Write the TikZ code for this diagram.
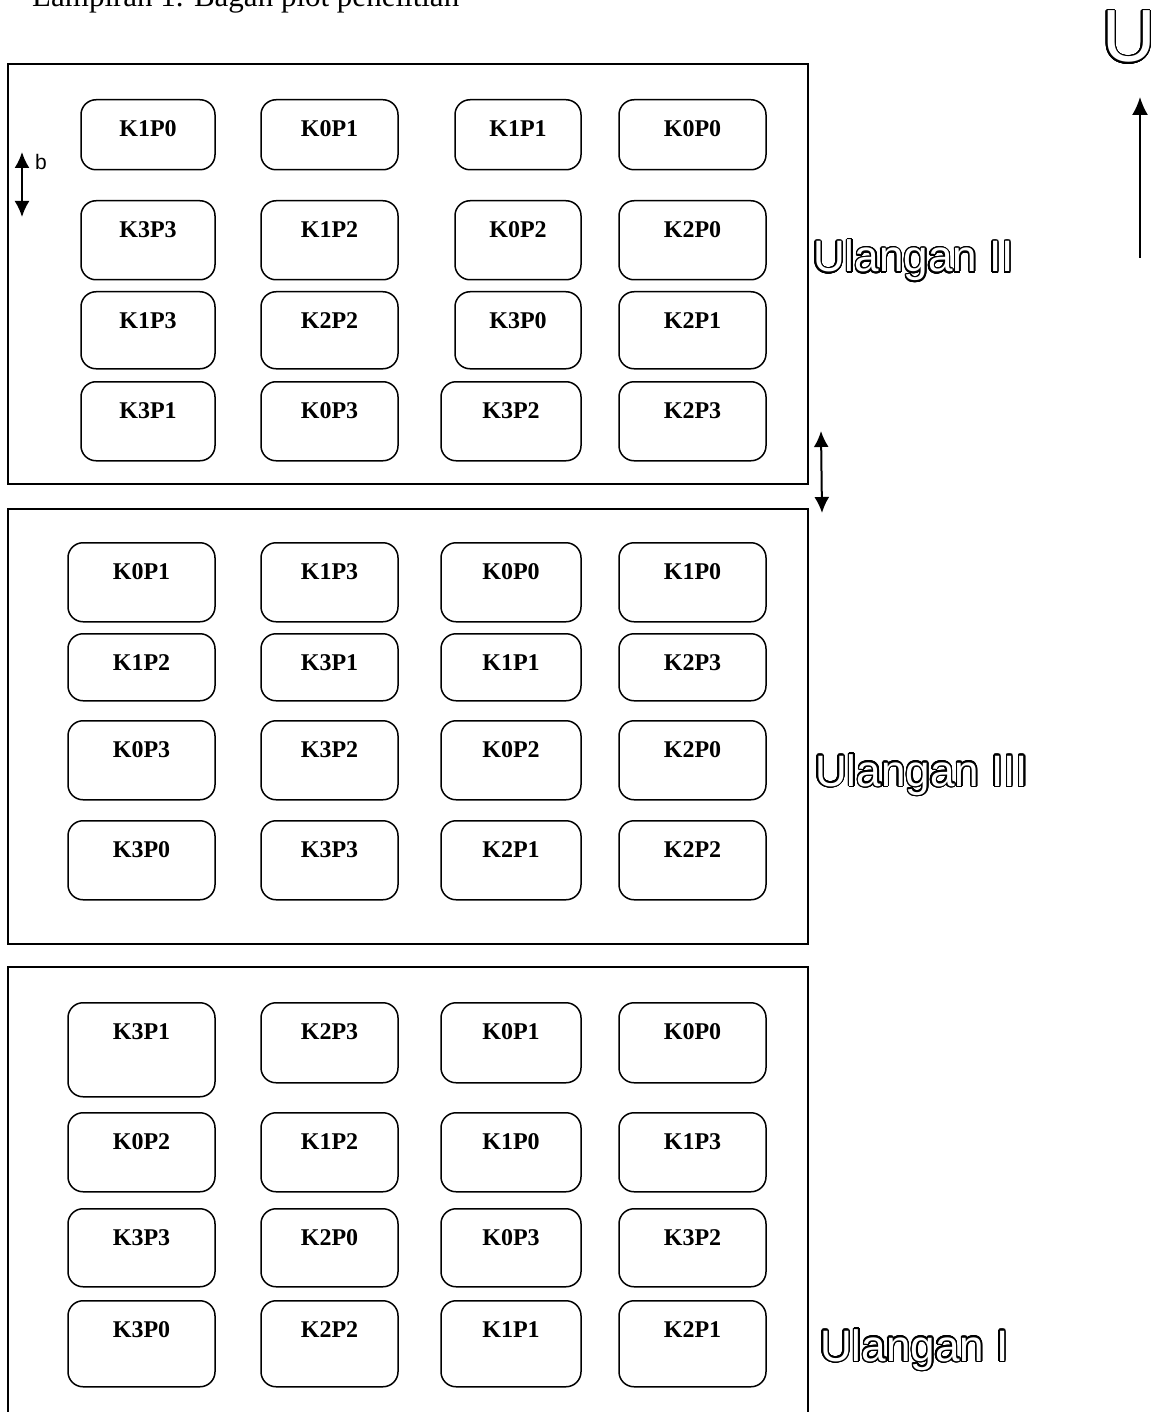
\documentclass[tikz,border=0pt]{standalone}
\usepackage{fontspec}
\setmainfont{Liberation Serif}
\newfontfamily\arialfont{Liberation Sans}
\usepackage{contour}
\contourlength{1.4pt}
\contournumber{32}
\usetikzlibrary{arrows.meta}

\tikzset{
  petak/.style={draw,line width=1.5pt,rounded corners=15pt,inner xsep=0pt,inner ysep=0pt,
    text height=37pt,anchor=north,font=\fontsize{24}{28}\selectfont\bfseries},
  blok/.style={line width=1.6pt},
  ulangan/.style={anchor=base west,inner sep=0pt,font=\arialfont\fontsize{44}{50}\selectfont},
  panah/.style={line width=2pt,-{Latex[length=18pt,width=16pt]}},
  panahdua/.style={line width=2pt,{Latex[length=16pt,width=15pt]}-{Latex[length=16pt,width=15pt]}},
}
% one plot: name, left, top, right, bottom, label
\newcommand{\petak}[6]{%
  \pgfmathsetmacro\lebarpetak{#4-#2}%
  \pgfmathsetmacro\dalampetak{#5-#3-37}%
  \node[petak,minimum width=\lebarpetak pt,text depth=\dalampetak pt] (#1) at ({(#2+#4)/2},#3) {#6};}
\newcommand{\garis}[1]{\textcolor{white}{\contour{black}{#1}}}

\begin{document}
\begin{tikzpicture}[x=1pt,y=-1pt]
\clip (0,0) rectangle (1157,1412);
\node[anchor=base west,inner sep=0pt,font=\fontsize{31}{36}\selectfont] (judul) at (32,7) {Lampiran 1. Bagan plot penelitian};

% blocks
\draw[blok] (8,64) rectangle (808,484);
\draw[blok] (8,509) rectangle (808,944);
\draw[blok] (8,1420) -- (8,967) -- (808,967) -- (808,1420);

% Ulangan II
\foreach \k/\xa/\xb/\t in {1/81/215/K1P0,2/261/398/K0P1,3/455/581/K1P1,4/619/766/K0P0}
  \petak{ua\k}{\xa}{99}{\xb}{169}{\t};
\foreach \k/\xa/\xb/\t in {1/81/215/K3P3,2/261/398/K1P2,3/455/581/K0P2,4/619/766/K2P0}
  \petak{ub\k}{\xa}{200}{\xb}{279}{\t};
\foreach \k/\xa/\xb/\t in {1/81/215/K1P3,2/261/398/K2P2,3/455/581/K3P0,4/619/766/K2P1}
  \petak{uc\k}{\xa}{291}{\xb}{368}{\t};
\foreach \k/\xa/\xb/\t in {1/81/215/K3P1,2/261/398/K0P3,3/441/581/K3P2,4/619/766/K2P3}
  \petak{ud\k}{\xa}{381}{\xb}{460}{\t};

% Ulangan III
\foreach \k/\xa/\xb/\t in {1/68/215/K0P1,2/261/398/K1P3,3/441/581/K0P0,4/619/766/K1P0}
  \petak{va\k}{\xa}{542}{\xb}{621}{\t};
\foreach \k/\xa/\xb/\t in {1/68/215/K1P2,2/261/398/K3P1,3/441/581/K1P1,4/619/766/K2P3}
  \petak{vb\k}{\xa}{633}{\xb}{700}{\t};
\foreach \k/\xa/\xb/\t in {1/68/215/K0P3,2/261/398/K3P2,3/441/581/K0P2,4/619/766/K2P0}
  \petak{vc\k}{\xa}{720}{\xb}{799}{\t};
\foreach \k/\xa/\xb/\t in {1/68/215/K3P0,2/261/398/K3P3,3/441/581/K2P1,4/619/766/K2P2}
  \petak{vd\k}{\xa}{820}{\xb}{899}{\t};

% Ulangan I
\petak{wa1}{68}{1002}{215}{1096}{K3P1}
\foreach \k/\xa/\xb/\t in {2/261/398/K2P3,3/441/581/K0P1,4/619/766/K0P0}
  \petak{wa\k}{\xa}{1002}{\xb}{1082}{\t};
\foreach \k/\xa/\xb/\t in {1/68/215/K0P2,2/261/398/K1P2,3/441/581/K1P0,4/619/766/K1P3}
  \petak{wb\k}{\xa}{1112}{\xb}{1191}{\t};
\foreach \k/\xa/\xb/\t in {1/68/215/K3P3,2/261/398/K2P0,3/441/581/K0P3,4/619/766/K3P2}
  \petak{wc\k}{\xa}{1208}{\xb}{1286}{\t};
\foreach \k/\xa/\xb/\t in {1/68/215/K3P0,2/261/398/K2P2,3/441/581/K1P1,4/619/766/K2P1}
  \petak{wd\k}{\xa}{1300}{\xb}{1386}{\t};

\node[ulangan] (ul2) at (813,272) {\garis{Ulangan II}};
\node[ulangan] (ul3) at (815,786) {\garis{Ulangan III}};
\node[ulangan] (ul1) at (820,1361) {\garis{Ulangan I}};

% north
\node[anchor=base west,inner sep=0pt,font=\arialfont\fontsize{74}{80}\selectfont] (utara) at (1102,62) {\garis{U}};
\coordinate (utara ekor) at (1140,258);
\coordinate (utara kepala) at (1140,97);
\draw[panah] (utara ekor) -- (utara kepala);

% spacing
\coordinate (b atas) at (22,152);
\coordinate (b bawah) at (22,217);
\draw[panahdua] (b atas) -- (b bawah);
\node[anchor=base west,inner sep=0pt,font=\arialfont\fontsize{21}{24}\selectfont] (lebar) at (35,170) {b};
\coordinate (jarak atas) at (821,431);
\coordinate (jarak bawah) at (822,513);
\draw[panahdua] (jarak atas) -- (jarak bawah);
\end{tikzpicture}
\end{document}
